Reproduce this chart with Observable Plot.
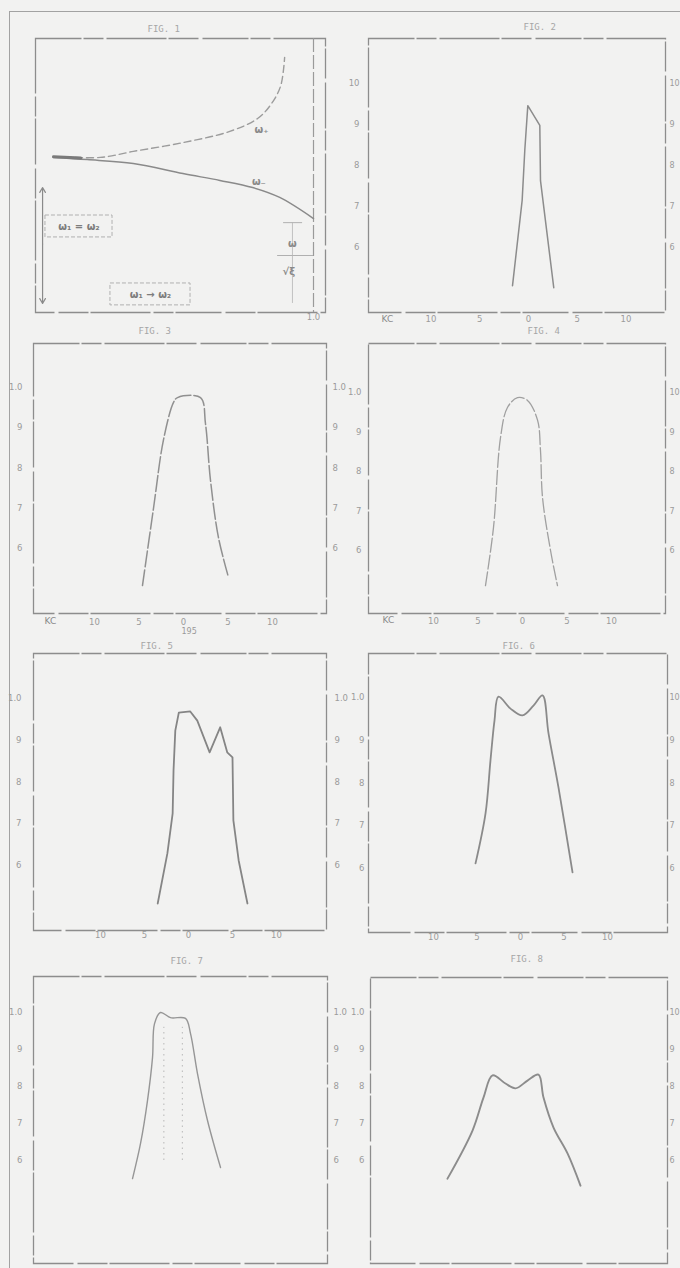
<!DOCTYPE html>
<html>
<head>
<meta charset="utf-8">
<script src="https://cdn.jsdelivr.net/npm/d3@7"></script>
<script src="https://cdn.jsdelivr.net/npm/@observablehq/plot@0.6"></script>
<style>
  html, body { margin: 0; padding: 0; background: #f2f2f1; }
  #page { position: relative; width: 680px; height: 1268px; overflow: hidden; background: #f2f2f1; }
  #border { position: absolute; left: 9px; top: 11px; width: 700px; height: 1300px;
            border-left: 1.5px solid #a2a2a2; border-top: 1.5px solid #a2a2a2; }
  .panel { position: absolute; }
  .panel svg { background: transparent; overflow: visible; max-width: none !important; display: block; }
</style>
</head>
<body>
<div id="page"><div id="border"></div></div>
<script>
// ---------------- DATA ----------------
const ticksY = [0.6, 0.7, 0.8, 0.9, 1.0];
const ticksX = [-10, -5, 0, 5, 10];
const titles = ["FIG. 1", "FIG. 2", "FIG. 3", "FIG. 4", "FIG. 5", "FIG. 6", "FIG. 7", "FIG. 8"];

// Fig 1: two branches (ω₊ dashed, ω₋ solid)
const fig1UpperX = [0, 0.18, 0.307, 0.498, 0.678, 0.785, 0.839, 0.874, 0.889];
const fig1UpperY = [0.569, 0.566, 0.588, 0.620, 0.661, 0.708, 0.763, 0.828, 0.931];
const fig1LowerX = [0, 0.130, 0.307, 0.498, 0.640, 0.766, 0.870, 1.0];
const fig1LowerY = [0.566, 0.558, 0.544, 0.507, 0.482, 0.456, 0.420, 0.343];
const fig1BoldX = [0, 0.105];
const fig1BoldY = [0.568, 0.564];
const fig1Arrows = [{x: -0.042, y1: 0.25, y2: 0.456}, {x: -0.042, y1: 0.25, y2: 0.033}];
const fig1Boxes = [
  {x1: -0.031, x2: 0.227, y1: 0.274, y2: 0.354, label: "ω₁ = ω₂"},
  {x1: 0.219, x2: 0.527, y1: 0.026, y2: 0.106, label: "ω₁ → ω₂"}
];
const fig1Bars = [{x1: 0.885, x2: 0.958, y: 0.328}, {x1: 0.862, x2: 1.0, y: 0.208}];
const fig1Stem = [{x: 0.919, y1: 0.033, y2: 0.328}];
const fig1Labels = [
  {x: 0.80, y: 0.668, text: "ω₊"},
  {x: 0.79, y: 0.478, text: "ω₋"},
  {x: 0.919, y: 0.252, text: "ω"},
  {x: 0.905, y: 0.150, text: "√ξ"}
];

// Figs 2–8: frequency offset (KC) vs relative response
const fig2X = [-1.64, -0.65, -0.38, -0.07, 1.16, 1.23, 2.59];
const fig2Y = [0.507, 0.715, 0.837, 0.946, 0.898, 0.763, 0.502];

const fig3X = [-4.61, -3.37, -2.25, -1.12, -0.67, 1.91, 2.47, 3.03, 3.93, 5.06];
const fig3Y = [0.508, 0.700, 0.870, 0.963, 0.975, 0.975, 0.910, 0.770, 0.627, 0.528];

const fig4X = [-4.16, -3.26, -2.47, -1.69, -0.56, 0.56, 1.69, 2.02, 2.25, 3.15, 3.93];
const fig4Y = [0.511, 0.658, 0.886, 0.962, 0.987, 0.980, 0.930, 0.853, 0.734, 0.600, 0.511];

const fig5X = [-3.5, -2.4, -1.8, -1.7, -1.5, -1.1, 0.2, 1.0, 2.4, 3.6, 4.4, 5.0, 5.1, 5.7, 6.7];
const fig5Y = [0.509, 0.629, 0.725, 0.828, 0.923, 0.966, 0.969, 0.947, 0.871, 0.931, 0.871, 0.859, 0.708, 0.612, 0.509];

const fig6X = [-5.17, -4.02, -3.45, -2.99, -2.53, -1.15, 0.23, 1.49, 2.53, 3.22, 4.37, 5.98];
const fig6Y = [0.612, 0.729, 0.853, 0.946, 1.002, 0.974, 0.958, 0.981, 1.005, 0.916, 0.789, 0.591];

const fig7X = [-6.36, -5.45, -4.66, -4.09, -3.86, -3.18, -2.05, -0.34, 0.23, 1.02, 2.16, 3.64];
const fig7Y = [0.551, 0.646, 0.762, 0.878, 0.970, 1.000, 0.986, 0.984, 0.943, 0.835, 0.708, 0.581];
const fig7Guides = [-2.8, -0.7];

const fig8X = [-8.05, -5.17, -3.91, -2.87, -1.38, -0.23, 1.15, 2.41, 2.99, 4.14, 5.75, 7.24];
const fig8Y = [0.551, 0.681, 0.770, 0.830, 0.808, 0.795, 0.816, 0.832, 0.770, 0.689, 0.619, 0.532];

// ---------------- LAYOUT / STYLE ----------------
const FRAME = "#8d8d8d", CURVE = "#8a8a8a", LABEL = "#9b9b9b", TITLE = "#a6a6a6";
const MONO = "'DejaVu Sans Mono', 'Liberation Mono', monospace";
const SANS = "'DejaVu Sans', sans-serif";
const FRAME_DASH = "46,2,20,3,60,2,30,4";
const M = {l: 34, r: 24, t: 34, b: 22};

const layouts = [
  {L: 368, R: 665, T: 38, B: 312, x0: 528, sx: 9.75, y10: 83, y6: 247, lp: 9, rp: 4, rfs: 8, rtop: "10", bp: 3, title: [523, 23], kc: [381, 321], top: "10"},
  {L: 33, R: 326, T: 343, B: 613, x0: 183, sx: 8.9, y10: 387, y6: 548, lp: 11, rp: 6, bp: 5, title: [138, 327], kc: [44, 623], page: [181, 633]},
  {L: 368, R: 665, T: 343, B: 613, x0: 522, sx: 8.9, y10: 392, y6: 550, lp: 7, rp: 4, rfs: 8, rtop: "10", bp: 4, title: [527, 327], kc: [382, 622]},
  {L: 33, R: 326, T: 653, B: 930, x0: 188, sx: 8.8, y10: 698, y6: 865, lp: 12, rp: 8, bp: 1, title: [140, 642]},
  {L: 368, R: 667, T: 653, B: 932, x0: 520, sx: 8.7, y10: 697, y6: 868, lp: 4, rp: 2, rfs: 8, rtop: "10", bp: 1, title: [502, 642]},
  {L: 33, R: 327, T: 976, B: 1263, x0: 188, sx: 8.8, y10: 1012, y6: 1160, lp: 11, rp: 6, bp: null, title: [170, 957]},
  {L: 370, R: 667, T: 977, B: 1263, x0: 517, sx: 8.7, y10: 1012, y6: 1160, lp: 6, rp: 2, rfs: 8, rtop: "10", bp: null, title: [510, 955]}
];

const page = document.getElementById("page");
function place(chart, left, top, w, h) {
  const d = document.createElement("div");
  d.className = "panel";
  d.style.left = left + "px";
  d.style.top = top + "px";
  d.style.width = w + "px";
  d.style.height = h + "px";
  d.appendChild(chart);
  page.appendChild(d);
}
const zip = (xs, ys) => xs.map((x, i) => ({x, y: ys[i]}));

// ---------------- FIG 1 ----------------
(function () {
  const L = 35, R = 325, T = 38, B = 312, x0 = 53, sx = 260;
  const W = R - L + M.l + M.r, H = B - T + M.t + M.b;
  const chart = Plot.plot({
    width: W, height: H,
    marginLeft: M.l, marginRight: M.r, marginTop: M.t, marginBottom: M.b,
    x: {domain: [(L - x0) / sx, (R - x0) / sx]},
    y: {domain: [0, 1], axis: null},
    style: {background: "transparent", color: LABEL, fontFamily: SANS, overflow: "visible"},
    marks: [
      Plot.frame({stroke: FRAME, strokeWidth: 1.3, strokeDasharray: FRAME_DASH}),
      Plot.ruleX([1], {stroke: "#9a9a9a", strokeWidth: 1.2, strokeDasharray: "14,3"}),
      Plot.axisX([1], {anchor: "bottom", tickSize: 0, tickPadding: 1, tickFormat: () => "1.0", fontSize: 8.5, label: null}),
      Plot.text([titles[0]], {frameAnchor: "top-left", dx: 147 - L, dy: 25 - T, fontFamily: MONO, fontSize: 9, fill: TITLE}),
      Plot.line(zip(fig1UpperX, fig1UpperY), {x: "x", y: "y", stroke: "#9c9c9c", strokeWidth: 1.4, strokeDasharray: "7,4", curve: "catmull-rom"}),
      Plot.line(zip(fig1LowerX, fig1LowerY), {x: "x", y: "y", stroke: CURVE, strokeWidth: 1.5, curve: "catmull-rom"}),
      Plot.line(zip(fig1BoldX, fig1BoldY), {x: "x", y: "y", stroke: "#7a7a7a", strokeWidth: 3}),
      Plot.arrow(fig1Arrows, {x1: "x", x2: "x", y1: "y1", y2: "y2", stroke: "#8a8a8a", strokeWidth: 1.2, headLength: 7}),
      Plot.rect(fig1Boxes, {x1: "x1", x2: "x2", y1: "y1", y2: "y2", fill: "none", stroke: "#b0b0b0", strokeDasharray: "4,2"}),
      Plot.text(fig1Boxes, {x: d => (d.x1 + d.x2) / 2, y: d => (d.y1 + d.y2) / 2, text: "label", fontSize: 10, fontWeight: "bold", fill: "#7d7d7d"}),
      Plot.ruleY(fig1Bars, {x1: "x1", x2: "x2", y: "y", stroke: "#b0b0b0"}),
      Plot.ruleX(fig1Stem, {x: "x", y1: "y1", y2: "y2", stroke: "#b5b5b5", strokeWidth: 0.8}),
      Plot.text(fig1Labels, {x: "x", y: "y", text: "text", fontSize: 10, fontWeight: "bold", fill: "#8a8a8a"})
    ]
  });
  place(chart, L - M.l, T - M.t, W, H);
})();

// ---------------- FIGS 2–8 ----------------
const series = [
  {xs: fig2X, ys: fig2Y, curve: "linear", w: 1.5, c: "#8c8c8c"},
  {xs: fig3X, ys: fig3Y, curve: "catmull-rom", w: 1.5, c: "#909090", dash: "16,3"},
  {xs: fig4X, ys: fig4Y, curve: "catmull-rom", w: 1.3, c: "#a0a0a0", dash: "14,3"},
  {xs: fig5X, ys: fig5Y, curve: "linear", w: 1.8, c: "#858585"},
  {xs: fig6X, ys: fig6Y, curve: "catmull-rom", w: 1.8, c: "#8a8a8a"},
  {xs: fig7X, ys: fig7Y, curve: "catmull-rom", w: 1.4, c: "#969696"},
  {xs: fig8X, ys: fig8Y, curve: "catmull-rom", w: 1.9, c: "#8c8c8c"}
];

layouts.forEach((cfg, k) => {
  const s = series[k];
  const sy = (cfg.y6 - cfg.y10) / 0.4;
  const yDomain = [0.6 - (cfg.B - cfg.y6) / sy, 1.0 + (cfg.y10 - cfg.T) / sy];
  const xDomain = [(cfg.L - cfg.x0) / cfg.sx, (cfg.R - cfg.x0) / cfg.sx];
  const fmt = top => d => d > 0.95 ? top : String(Math.round(d * 10));
  const marks = [
    Plot.frame({stroke: FRAME, strokeWidth: 1.3, strokeDasharray: FRAME_DASH}),
    Plot.axisY(ticksY, {anchor: "left", tickSize: 0, tickPadding: cfg.lp, tickFormat: fmt(cfg.top || "1.0"), fontSize: 8.5, label: null}),
    Plot.axisY(ticksY, {anchor: "right", tickSize: 0, tickPadding: cfg.rp, tickFormat: fmt(cfg.rtop || "1.0"), fontSize: cfg.rfs || 8.5, label: null}),
    Plot.text([titles[k + 1]], {frameAnchor: "top-left", dx: cfg.title[0] - cfg.L, dy: cfg.title[1] - cfg.T, fontFamily: MONO, fontSize: 9, fill: TITLE})
  ];
  if (cfg.bp != null) {
    marks.push(Plot.axisX(ticksX, {anchor: "bottom", tickSize: 0, tickPadding: cfg.bp, tickFormat: d => String(Math.abs(d)), fontSize: 8.5, label: null}));
  } else {
    marks.push(Plot.axisX([], {anchor: "bottom", label: null}));
  }
  if (cfg.kc) {
    marks.push(Plot.text(["KC"], {frameAnchor: "bottom-left", dx: cfg.kc[0] - cfg.L, dy: cfg.kc[1] - cfg.B, fontSize: 9, fill: "#8a8a8a"}));
  }
  if (cfg.page) {
    marks.push(Plot.text(["195"], {frameAnchor: "bottom-left", dx: cfg.page[0] - cfg.L, dy: cfg.page[1] - cfg.B, fontSize: 8, fill: "#9a9a9a"}));
  }
  if (k === 5) {
    marks.push(Plot.ruleX(fig7Guides, {y1: 0.6, y2: 0.96, stroke: "#b8b8b8", strokeWidth: 1, strokeDasharray: "1.5,4"}));
  }
  marks.push(Plot.line(zip(s.xs, s.ys), {x: "x", y: "y", stroke: s.c, strokeWidth: s.w, curve: s.curve, strokeDasharray: s.dash || null, strokeLinejoin: "round"}));

  const W = cfg.R - cfg.L + M.l + M.r, H = cfg.B - cfg.T + M.t + M.b;
  const chart = Plot.plot({
    width: W, height: H,
    marginLeft: M.l, marginRight: M.r, marginTop: M.t, marginBottom: M.b,
    x: {domain: xDomain},
    y: {domain: yDomain},
    style: {background: "transparent", color: LABEL, fontFamily: SANS, overflow: "visible"},
    marks
  });
  place(chart, cfg.L - M.l, cfg.T - M.t, W, H);
});
</script>
</body>
</html>
